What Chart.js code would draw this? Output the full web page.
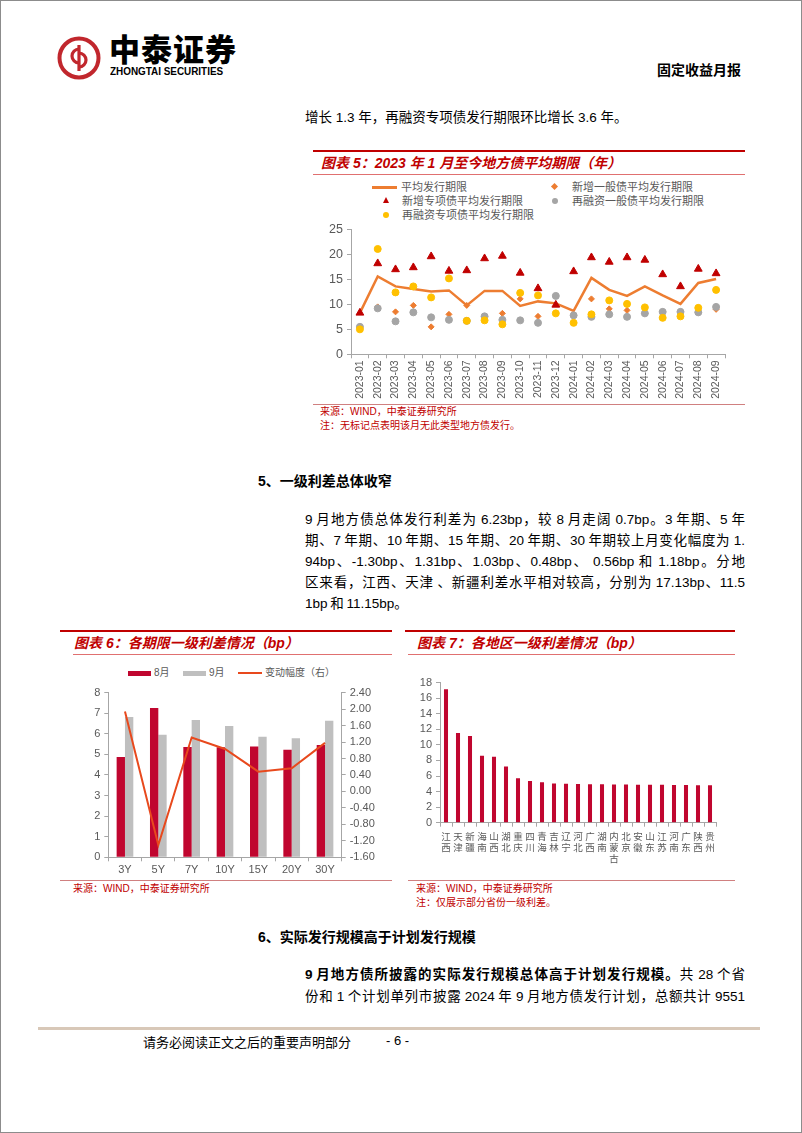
<!DOCTYPE html>
<html lang="zh-CN">
<head>
<meta charset="utf-8">
<title>固定收益月报</title>
<script src="https://cdn.jsdelivr.net/npm/chart.js@4.4.1/dist/chart.umd.min.js"></script>
<style>
  html, body { margin: 0; padding: 0; background: #fff; }
  body { width: 802px; height: 1133px; position: relative; overflow: hidden;
         font-family: 'Liberation Sans', 'Noto Sans CJK SC', sans-serif; color: #000; }
  .frame { position: absolute; left: 0; top: 0; width: 800px; height: 1131px; border: 1px solid #8c8c8c; }
  .abs { position: absolute; white-space: nowrap; }
  .txt { font-size: 13.5px; line-height: 20px; }
  .head { font-size: 14px; line-height: 20px; font-weight: bold; }
  .para { position: absolute; left: 305px; width: 440px; font-size: 13.5px; line-height: 20px;
          text-align: justify; text-align-last: justify; word-spacing: -1px; }
  .para.last { text-align-last: left; }
  .rule-top { position: absolute; height: 2px; background: #C00000; }
  .rule-thin { position: absolute; height: 1px; background: #E07070; }
  .rule-bot { position: absolute; height: 1px; background: #D08080; }
  .ctitle { position: absolute; font-size: 14px; line-height: 20px; font-weight: bold; font-style: italic;
            color: #C00000; white-space: nowrap; }
  .src { position: absolute; font-size: 10px; line-height: 14px; color: #C00000; white-space: nowrap; }
  .leg { position: absolute; font-size: 11px; line-height: 14px; color: #595959; white-space: nowrap; }
  .mk { position: absolute; }
  .box { position: absolute; }
</style>
</head>
<body>
<div class="frame"></div>

<!-- header -->
<svg class="abs" style="left:56px;top:35px" width="46" height="46" viewBox="0 0 46 46">
  <circle cx="23" cy="23" r="19.5" fill="none" stroke="#C1272D" stroke-width="4"/>
  <path d="M23 10 V36" stroke="#C1272D" stroke-width="3.2" fill="none"/>
  <path d="M23 14 A7 7 0 1 0 23 28" stroke="#C1272D" stroke-width="3.2" fill="none"/>
  <path d="M23 18 A7 7 0 1 1 23 32" stroke="#C1272D" stroke-width="3.2" fill="none"/>
</svg>
<div class="abs" style="left:109px;top:29px;font-size:31px;line-height:38px;font-weight:900;font-family:'Noto Sans CJK SC';letter-spacing:1px;">中泰证券</div>
<div class="abs" style="left:110px;top:64px;font-size:11px;line-height:14px;font-weight:bold;transform:scaleX(0.9);transform-origin:left;">ZHONGTAI SECURITIES</div>
<div class="abs head" style="left:657px;top:60px;">固定收益月报</div>

<div class="abs txt" style="left:305px;top:108px;">增长 1.3 年，再融资专项债发行期限环比增长 3.6 年。</div>

<!-- chart 5 -->
<div class="rule-top" style="left:313px;top:150px;width:432px;"></div>
<div class="ctitle" style="left:321px;top:153px;">图表 5：2023 年 1 月至今地方债平均期限（年）</div>
<div class="rule-thin" style="left:313px;top:174px;width:432px;"></div>

<div class="mk" style="left:372px;top:186px;width:25px;height:3px;background:#ED7D31;"></div>
<div class="leg" style="left:401px;top:180px;">平均发行期限</div>
<div class="mk" style="left:552px;top:184px;width:5px;height:5px;background:#ED7D31;transform:rotate(45deg);"></div>
<div class="leg" style="left:572px;top:180px;">新增一般债平均发行期限</div>
<div class="mk" style="left:383px;top:197px;width:0;height:0;border-left:3px solid transparent;border-right:3px solid transparent;border-bottom:6px solid #C00000;"></div>
<div class="leg" style="left:402px;top:194px;">新增专项债平均发行期限</div>
<div class="mk" style="left:552px;top:198px;width:6px;height:6px;border-radius:50%;background:#A5A5A5;"></div>
<div class="leg" style="left:572px;top:194px;">再融资一般债平均发行期限</div>
<div class="mk" style="left:383px;top:212px;width:6px;height:6px;border-radius:50%;background:#FFC000;"></div>
<div class="leg" style="left:402px;top:208px;">再融资专项债平均发行期限</div>

<div class="box" style="left:313px;top:218px;width:432px;height:185px;"><canvas id="termChart"></canvas></div>
<div class="rule-bot" style="left:313px;top:404px;width:432px;"></div>
<div class="src" style="left:320px;top:405px;">来源：WIND，中泰证券研究所</div>
<div class="src" style="left:320px;top:419px;">注：无标记点表明该月无此类型地方债发行。</div>

<!-- section 5 -->
<div class="abs head" style="left:258px;top:471px;">5、一级利差总体收窄</div>
<div class="para" style="top:510px;">9 月地方债总体发行利差为 6.23bp，较 8 月走阔 0.7bp。3 年期、5 年</div>
<div class="para" style="top:531px;">期、7 年期、10 年期、15 年期、20 年期、30 年期较上月变化幅度为 1.</div>
<div class="para" style="top:552px;">94bp、-1.30bp、1.31bp、1.03bp、0.48bp、 0.56bp 和 1.18bp。分地</div>
<div class="para" style="top:573px;">区来看，江西、天津 、新疆利差水平相对较高，分别为 17.13bp、11.5</div>
<div class="para last" style="top:594px;">1bp 和 11.15bp。</div>

<!-- chart 6 -->
<div class="rule-top" style="left:60px;top:630px;width:332px;"></div>
<div class="ctitle" style="left:74px;top:633px;">图表 6：各期限一级利差情况（bp）</div>
<div class="rule-thin" style="left:73px;top:654px;width:319px;"></div>
<div class="mk" style="left:128px;top:671px;width:23px;height:5px;background:#C0062F;"></div>
<div class="leg" style="left:154px;top:666px;font-size:10px;">8月</div>
<div class="mk" style="left:183px;top:671px;width:23px;height:5px;background:#BFBFBF;"></div>
<div class="leg" style="left:209px;top:666px;font-size:10px;">9月</div>
<div class="mk" style="left:238px;top:672px;width:24px;height:2px;background:#E8491D;"></div>
<div class="leg" style="left:265px;top:666px;font-size:10px;">变动幅度（右）</div>
<div class="box" style="left:60px;top:682px;width:332px;height:196px;"><canvas id="tenorChart"></canvas></div>
<div class="rule-bot" style="left:60px;top:880px;width:332px;"></div>
<div class="src" style="left:73px;top:882px;">来源：WIND，中泰证券研究所</div>

<!-- chart 7 -->
<div class="rule-top" style="left:405px;top:630px;width:330px;"></div>
<div class="ctitle" style="left:417px;top:633px;">图表 7：各地区一级利差情况（bp）</div>
<div class="rule-thin" style="left:408px;top:654px;width:327px;"></div>
<div class="box" style="left:405px;top:672px;width:330px;height:200px;"><canvas id="regionChart"></canvas></div>
<div class="rule-bot" style="left:408px;top:880px;width:327px;"></div>
<div class="src" style="left:416px;top:882px;">来源：WIND，中泰证券研究所</div>
<div class="src" style="left:416px;top:896px;">注：仅展示部分省份一级利差。</div>

<!-- section 6 -->
<div class="abs head" style="left:258px;top:927px;">6、实际发行规模高于计划发行规模</div>
<div class="para" style="top:965px;"><b>9 月地方债所披露的实际发行规模总体高于计划发行规模。</b>共 28 个省</div>
<div class="para" style="top:987px;">份和 1 个计划单列市披露 2024 年 9 月地方债发行计划，总额共计 9551</div>

<!-- footer -->
<div class="abs" style="left:38px;top:1027px;width:722px;height:3px;background:#D8C8B8;"></div>
<div class="abs" style="left:143px;top:1034px;font-size:13px;line-height:18px;">请务必阅读正文之后的重要声明部分</div>
<div class="abs" style="left:386px;top:1032px;font-size:13px;line-height:18px;">- 6 -</div>

<script>
// chart 5: average issuance term, Jan 2023 - Sep 2024
const months = ['2023-01', '2023-02', '2023-03', '2023-04', '2023-05', '2023-06', '2023-07',
    '2023-08', '2023-09', '2023-10', '2023-11', '2023-12', '2024-01', '2024-02',
    '2024-03', '2024-04', '2024-05', '2024-06', '2024-07', '2024-08', '2024-09'];
const avgTerm     = [8.3, 15.6, 13.6, 13.1, 12.6, 12.8, 9.8, 12.7, 12.7, 9.7, 10.6, 10.2, 8.7, 15.3, 12.9, 11.7, 13.6, 11.8, 10.1, 14.3, 15.1];
const newGeneral  = [5.5, 9.5, 8.5, 9.8, 5.5, 8.0, 9.8, 7.6, 8.2, 11.1, 7.6, null, 7.8, 11.1, 9.1, 8.8, 8.2, 8.5, 8.5, 8.4, 9.0];
const newSpecial  = [8.3, 18.2, 17.0, 17.4, 19.6, 16.7, 16.8, 19.2, 19.7, 16.3, 13.2, 9.9, 16.6, 19.4, 18.5, 19.4, 18.9, 16.0, 13.6, 17.1, 16.2];
const refiGeneral = [5.5, 9.2, 6.6, 8.4, 7.4, 6.9, 6.7, 7.6, 6.9, 6.8, 6.3, 11.7, 7.8, 7.5, 8.0, 7.5, 8.2, 8.5, 8.5, 8.4, 9.5];
const refiSpecial = [5.0, 21.1, 12.4, 13.6, 11.4, 15.2, 6.7, 6.8, 6.0, 12.3, 11.8, 8.2, 6.3, 8.0, 10.8, 10.1, 9.4, 7.3, 7.6, 9.3, 12.9];
const termTicks = { min: 0, max: 25, step: 5 };

// chart 6: primary spread by tenor (bp)
const tenors = ['3Y', '5Y', '7Y', '10Y', '15Y', '20Y', '30Y'];
const spreadAug = [4.87, 7.25, 5.36, 5.35, 5.38, 5.22, 5.45];
const spreadSep = [6.81, 5.95, 6.67, 6.38, 5.86, 5.78, 6.63];
const spreadChange = [1.94, -1.30, 1.31, 1.03, 0.48, 0.56, 1.18];
const tenorLeftTicks = { min: 0, max: 8, step: 1 };
const tenorRightTicks = { min: -1.6, max: 2.4, step: 0.4 };

// chart 7: primary spread by region (bp)
const regions = ['江西', '天津', '新疆', '海南', '山西', '湖北', '重庆', '四川', '青海', '吉林', '辽宁', '河北',
    '广西', '湖南', '内蒙古', '北京', '安徽', '山东', '江苏', '河南', '广东', '陕西', '贵州'];
const regionSpread = [17.13, 11.51, 11.15, 8.6, 8.47, 7.23, 5.7, 5.37, 5.21, 5.05, 5.0, 4.98,
    4.95, 4.93, 4.91, 4.9, 4.89, 4.88, 4.87, 4.85, 4.83, 4.82, 4.8];
const regionTicks = { min: 0, max: 18, step: 2 };

Chart.defaults.font.family = "'Liberation Sans', 'Noto Sans CJK SC', sans-serif";
Chart.defaults.animation = false;
Chart.defaults.responsive = true;
Chart.defaults.maintainAspectRatio = false;
Chart.defaults.plugins.legend.display = false;
Chart.defaults.plugins.tooltip.enabled = false;

const axisGray = '#A6A6A6';
const labelGray = '#595959';

// shared look for the Excel-style axes: axis line + short outside ticks, no grid
const axisStyle = (fontSize) => ({
    border: { color: axisGray, width: 1 },
    grid: { drawOnChartArea: false, drawTicks: true, tickLength: 4, color: axisGray },
    ticks: { color: labelGray, font: { size: fontSize } }
});

const valueAxis = (range, fontSize, fixedWidth, extra = {}) => {
    const base = axisStyle(fontSize);
    return Object.assign(base, {
        min: range.min,
        max: range.max,
        ticks: Object.assign(base.ticks, { stepSize: range.step, padding: 4, autoSkip: false }),
        afterFit: (scale) => { scale.width = fixedWidth; }
    }, extra);
};

// chart 5
new Chart(document.getElementById('termChart'), {
    type: 'line',
    data: {
        labels: months,
        datasets: [
            { label: '平均发行期限', data: avgTerm, borderColor: '#ED7D31', borderWidth: 2.5, pointRadius: 0, order: 4 },
            { label: '新增一般债平均发行期限', data: newGeneral, showLine: false, pointStyle: 'rectRot', pointRadius: 3,
              backgroundColor: '#ED7D31', borderColor: '#ED7D31', order: 3 },
            { label: '新增专项债平均发行期限', data: newSpecial, showLine: false, pointStyle: 'triangle', pointRadius: 4.5,
              backgroundColor: '#C00000', borderColor: '#C00000', order: 0 },
            { label: '再融资一般债平均发行期限', data: refiGeneral, showLine: false, pointStyle: 'circle', pointRadius: 3.5,
              backgroundColor: '#A5A5A5', borderColor: '#A5A5A5', order: 2 },
            { label: '再融资专项债平均发行期限', data: refiSpecial, showLine: false, pointStyle: 'circle', pointRadius: 3.5,
              backgroundColor: '#FFC000', borderColor: '#FFC000', order: 1 }
        ]
    },
    options: {
        layout: { padding: { top: 3.7, right: 20, left: 0, bottom: 0 } },
        scales: {
            x: Object.assign(axisStyle(10.5), {
                offset: true,
                grid: { drawOnChartArea: false, tickLength: 4, color: axisGray, offset: true },
                ticks: { color: labelGray, font: { size: 10.5 }, minRotation: 90, maxRotation: 90, autoSkip: false, padding: 2 },
                afterFit: (scale) => { scale.height = 48.7; }
            }),
            y: valueAxis(termTicks, 12.5, 38)
        }
    }
});

// chart 6
new Chart(document.getElementById('tenorChart'), {
    type: 'bar',
    data: {
        labels: tenors,
        datasets: [
            { type: 'line', label: '变动幅度（右）', data: spreadChange, yAxisID: 'y1', borderColor: '#E8491D',
              borderWidth: 2, pointRadius: 0, order: 0 },
            { label: '8月', data: spreadAug, yAxisID: 'y', backgroundColor: '#C0062F', order: 1,
              categoryPercentage: 0.5, barPercentage: 1.0 },
            { label: '9月', data: spreadSep, yAxisID: 'y', backgroundColor: '#BFBFBF', order: 1,
              categoryPercentage: 0.5, barPercentage: 1.0 }
        ]
    },
    options: {
        layout: { padding: { top: 4.7, right: 0, left: 0, bottom: 0 } },
        scales: {
            x: Object.assign(axisStyle(11), {
                ticks: { color: labelGray, font: { size: 11 }, maxRotation: 0, padding: 2 },
                afterFit: (scale) => { scale.height = 20.7; }
            }),
            y: valueAxis(tenorLeftTicks, 11, 48.3, { position: 'left' }),
            y1: valueAxis(tenorRightTicks, 11, 50.3, { position: 'right' })
        }
    }
});

// right axis labels always with two decimals
const tenorChart = Chart.getChart('tenorChart');
tenorChart.options.scales.y1.ticks.callback = (v) => (Math.abs(v) < 1e-9 ? 0 : v).toFixed(2);
tenorChart.update();

// chart 7
new Chart(document.getElementById('regionChart'), {
    type: 'bar',
    data: {
        labels: regions.map(r => r.split('')),
        datasets: [
            { label: '一级利差', data: regionSpread, backgroundColor: '#C0062F', categoryPercentage: 0.8, barPercentage: 0.42 }
        ]
    },
    options: {
        layout: { padding: { top: 5.3, right: 19, left: 0, bottom: 0 } },
        scales: {
            x: Object.assign(axisStyle(9.5), {
                ticks: { color: labelGray, font: { size: 9.5, lineHeight: 1.15 }, maxRotation: 0, autoSkip: false, padding: 5 },
                afterFit: (scale) => { scale.height = 49.3; }
            }),
            y: valueAxis(regionTicks, 11, 35)
        }
    }
});
</script>
</body>
</html>
